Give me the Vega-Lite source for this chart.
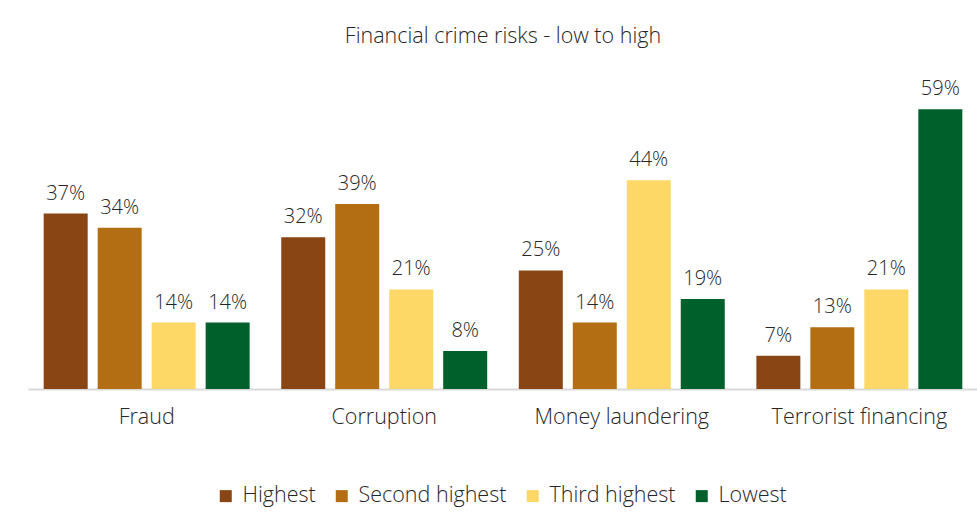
{
  "$schema": "https://vega.github.io/schema/vega-lite/v6.json",
  "autosize": "none",
  "width": 950,
  "height": 332,
  "padding": {"left": 28, "top": 57, "right": 0, "bottom": 141},
  "background": "white",
  "title": {
    "text": "Financial crime risks - low to high",
    "font": "Open Sans",
    "fontSize": 21.5,
    "fontWeight": 300,
    "color": "#262626",
    "anchor": "middle",
    "offset": 10
  },
  "data": {
    "values": [
      {"category": "Fraud", "rank": "Highest", "value": 0.37},
      {"category": "Fraud", "rank": "Second highest", "value": 0.34},
      {"category": "Fraud", "rank": "Third highest", "value": 0.14},
      {"category": "Fraud", "rank": "Lowest", "value": 0.14},
      {"category": "Corruption", "rank": "Highest", "value": 0.32},
      {"category": "Corruption", "rank": "Second highest", "value": 0.39},
      {"category": "Corruption", "rank": "Third highest", "value": 0.21},
      {"category": "Corruption", "rank": "Lowest", "value": 0.08},
      {"category": "Money laundering", "rank": "Highest", "value": 0.25},
      {"category": "Money laundering", "rank": "Second highest", "value": 0.14},
      {"category": "Money laundering", "rank": "Third highest", "value": 0.44},
      {"category": "Money laundering", "rank": "Lowest", "value": 0.19},
      {"category": "Terrorist financing", "rank": "Highest", "value": 0.07},
      {"category": "Terrorist financing", "rank": "Second highest", "value": 0.13},
      {"category": "Terrorist financing", "rank": "Third highest", "value": 0.21},
      {"category": "Terrorist financing", "rank": "Lowest", "value": 0.59}
    ]
  },
  "encoding": {
    "x": {
      "field": "category",
      "type": "nominal",
      "sort": ["Fraud", "Corruption", "Money laundering", "Terrorist financing"],
      "scale": {"paddingInner": 0.133, "paddingOuter": 0.066},
      "axis": {
        "title": null,
        "labelAngle": 0,
        "labelFont": "Open Sans",
        "labelFontSize": 21.5,
        "labelFontWeight": 300,
        "labelColor": "#262626",
        "labelPadding": 17,
        "ticks": false,
        "domainColor": "#d9d9d9",
        "domainWidth": 2
      }
    },
    "xOffset": {
      "field": "rank",
      "type": "nominal",
      "sort": ["Highest", "Second highest", "Third highest", "Lowest"],
      "scale": {"paddingInner": 0.185, "paddingOuter": 0}
    },
    "y": {
      "field": "value",
      "type": "quantitative",
      "scale": {"domain": [0, 0.7]},
      "axis": null
    }
  },
  "layer": [
    {
      "mark": {"type": "bar"},
      "encoding": {
        "color": {
          "field": "rank",
          "type": "nominal",
          "sort": ["Highest", "Second highest", "Third highest", "Lowest"],
          "scale": {
            "domain": ["Highest", "Second highest", "Third highest", "Lowest"],
            "range": ["#8A4515", "#B36E14", "#FDD866", "#00602B"]
          },
          "legend": {
            "title": null,
            "orient": "none",
            "legendX": 187,
            "legendY": 428,
            "padding": 0,
            "direction": "horizontal",
            "symbolType": "square",
            "symbolSize": 144,
            "symbolStrokeWidth": 0,
            "labelFont": "Open Sans",
            "labelFontSize": 21.5,
            "labelFontWeight": 300,
            "labelColor": "#262626",
            "columnPadding": 15,
            "labelOffset": 6
          }
        }
      }
    },
    {
      "mark": {
        "type": "text",
        "baseline": "bottom",
        "dy": -10,
        "font": "Open Sans",
        "fontSize": 20,
        "fontWeight": 300,
        "color": "#262626"
      },
      "encoding": {
        "text": {"field": "value", "type": "quantitative", "format": ".0%"}
      }
    }
  ],
  "config": {
    "view": {"stroke": null}
  }
}
